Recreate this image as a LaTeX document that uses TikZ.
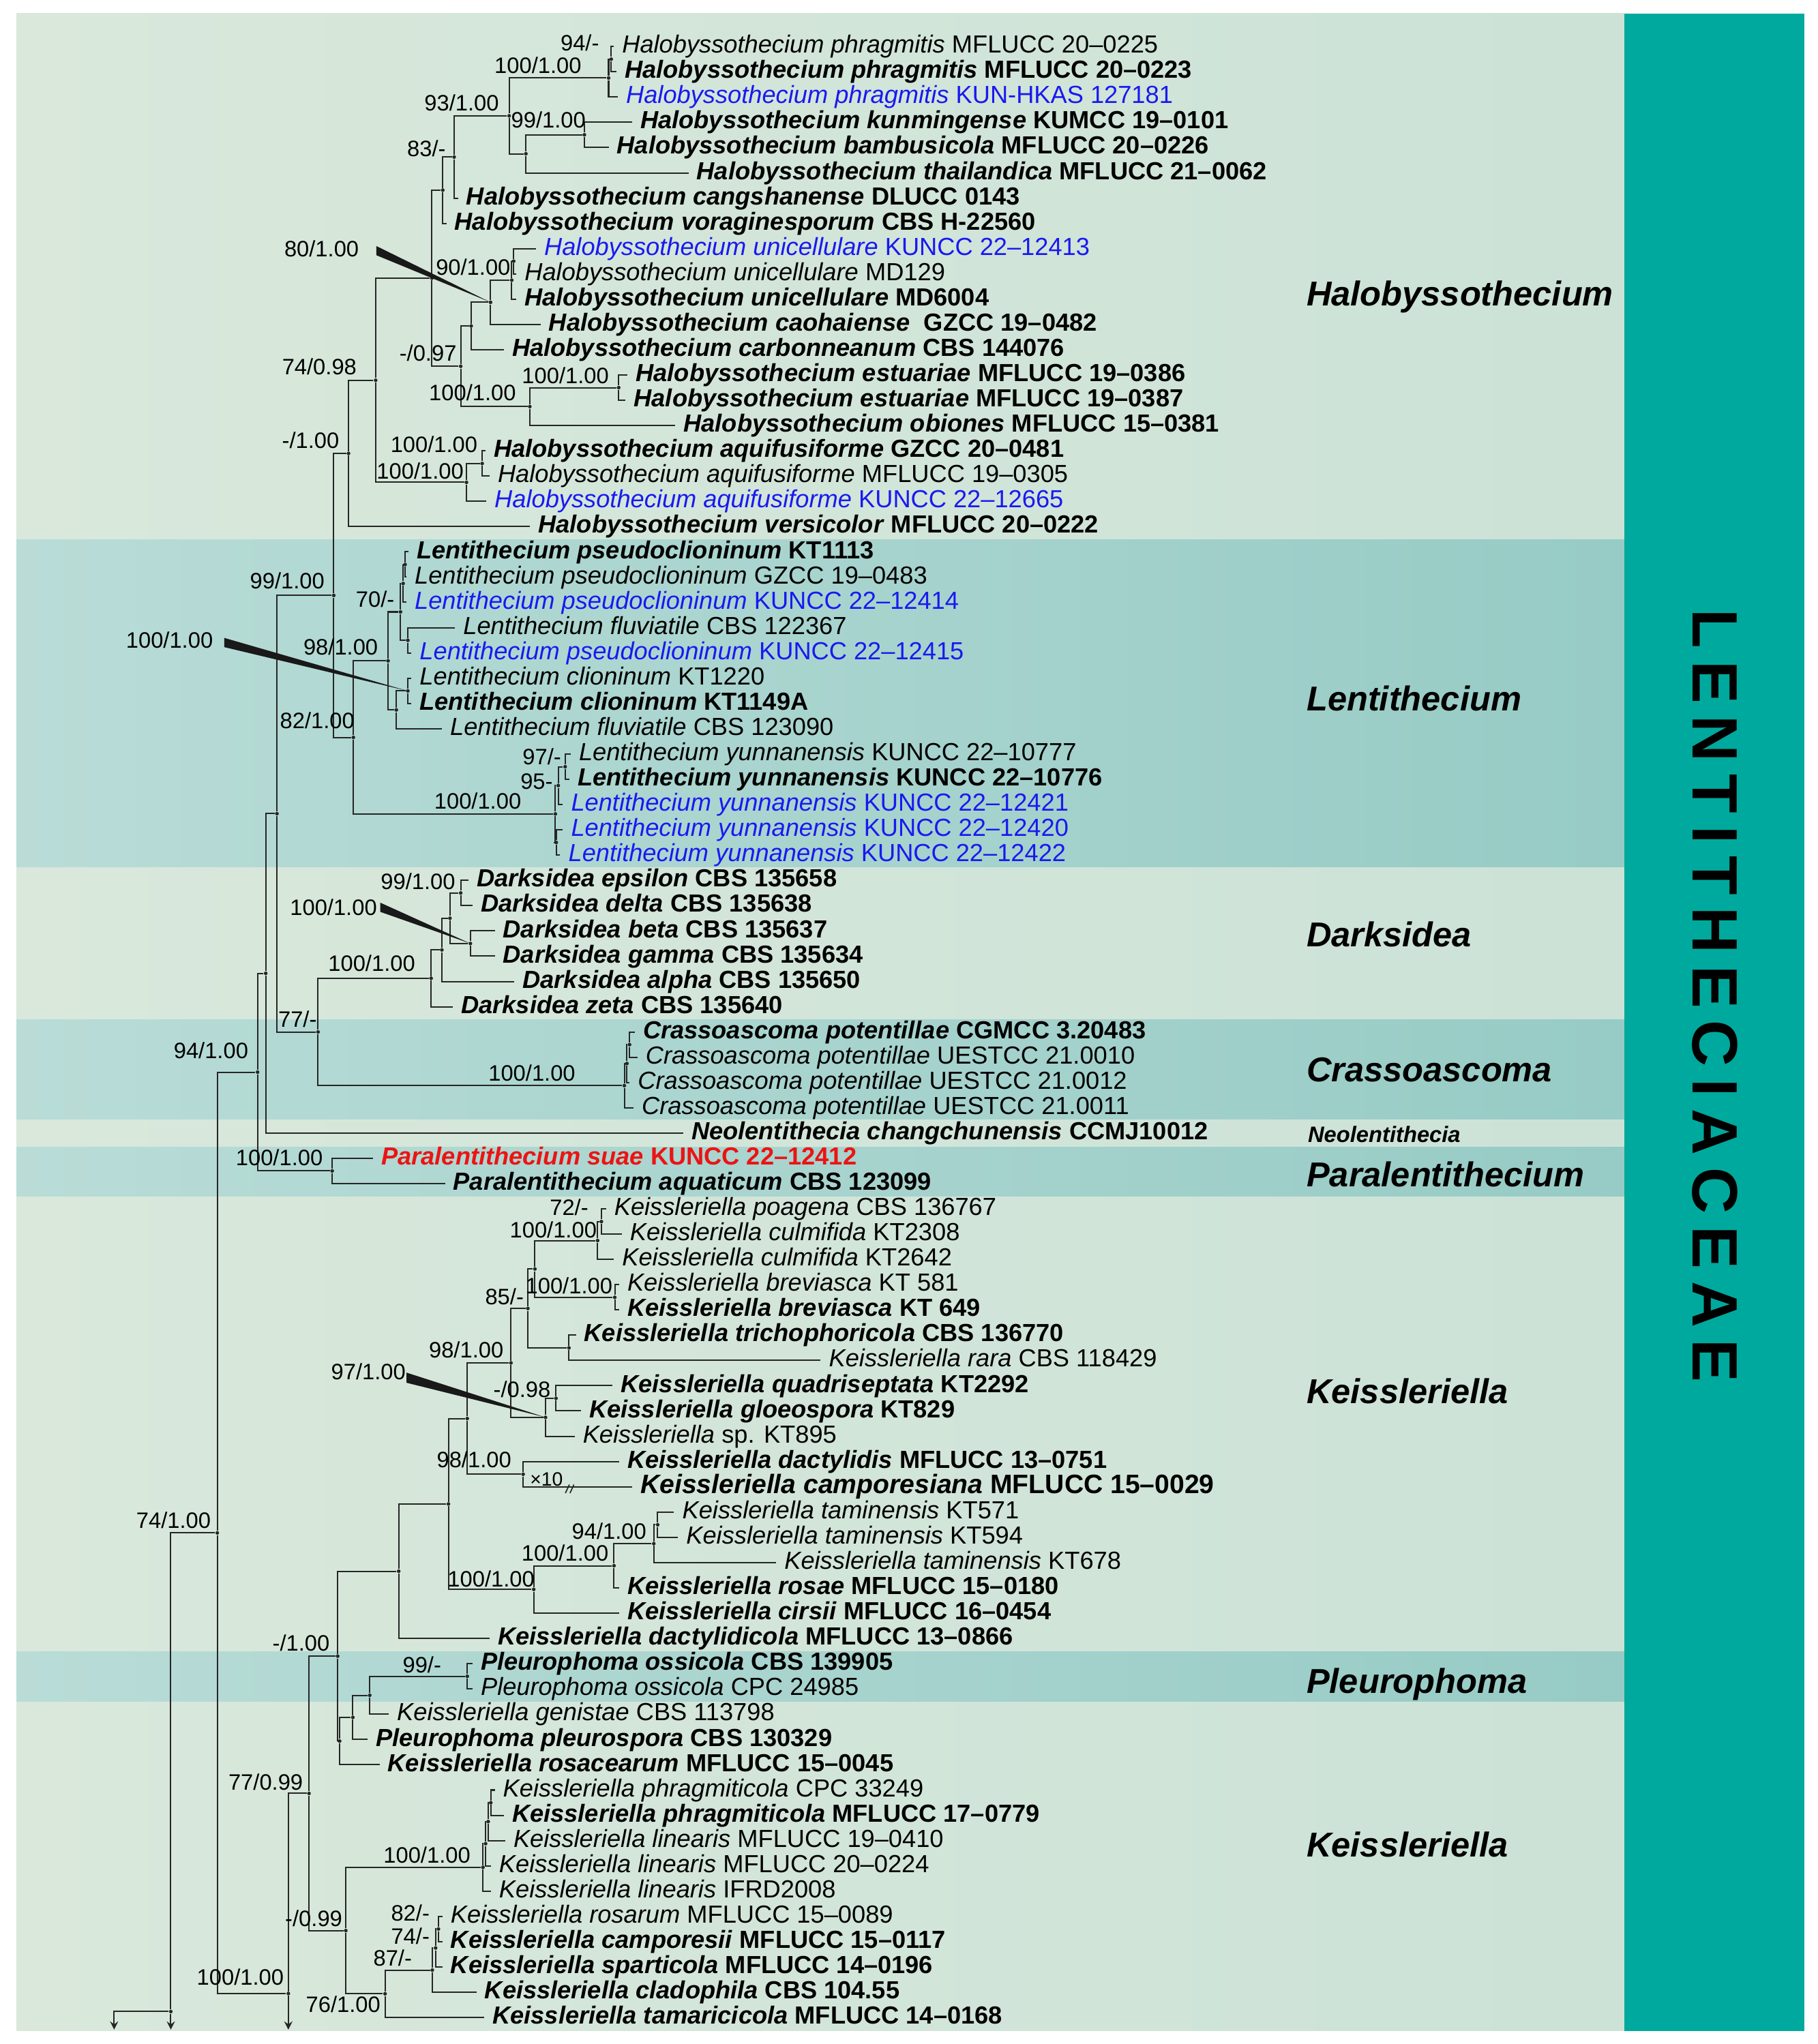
\documentclass[tikz,border=0pt]{standalone}
\usepackage{fontspec}
\setmainfont{Liberation Sans}
\usetikzlibrary{arrows}

\definecolor{lightL}{HTML}{D9E8DB}
\definecolor{lightR}{HTML}{CCE2D7}
\definecolor{tealL}{HTML}{B9DCD7}
\definecolor{tealR}{HTML}{97CBC5}
\definecolor{barteal}{HTML}{00A99D}
\definecolor{newblue}{RGB}{25,25,240}
\definecolor{newred}{RGB}{235,20,20}

\newcommand{\taxon}[2]{\textit{#1} #2}
\newcommand{\taxonb}[2]{\textbf{\textit{#1} #2}}

\tikzstyle{leaf} = [anchor=west, inner xsep=0.12cm, inner ysep=0pt, text height=8pt, text depth=2.3pt, font=\fontsize{10.75}{13}\selectfont]
\tikzstyle{fresh} = [text=newblue]
\tikzstyle{dot} = [circle, fill=black!85, inner sep=0pt, minimum size=1.6pt]
\tikzstyle{sup} = [inner sep=0pt, font=\fontsize{9.7}{11}\selectfont]
\tikzstyle{clade} = [anchor=west, inner sep=0pt, text height=11pt, text depth=0pt, font=\fontsize{15}{18}\selectfont\bfseries\itshape]
\tikzstyle{branch} = [line width=0.6pt, draw=black!85]
\tikzstyle{arrow} = [branch, ->, >=stealth]

\begin{document}
\begin{tikzpicture}[x=0.02cm, y=-0.02cm]
        \useasboundingbox (0,0) rectangle (1389,1562);
        \fill[white] (0,0) rectangle (1389,1562);
        % bands
        \foreach \ya/\yb/\c in {10.4/412.5/light, 412.5/663/teal, 663/779/light, 779/856/teal, 856/876.5/light, 876.5/914.5/teal, 914.5/1262/light, 1262/1300.5/teal, 1300.5/1552/light}
          \shade[left color=\c L, right color=\c R] (12.7,\ya) rectangle (1241,\yb);
        \fill[barteal] (1241,10.4) rectangle (1378.4,1552);

        % internal nodes
        \node (a12) [dot] at (467,45.2) {};
        \node (a123) [dot] at (465,59.6) {};
        \node (b45) [dot] at (446.5,103) {};
        \node (b456) [dot] at (401.8,117.5) {};
        \node (n93) [dot] at (389,88.5) {};
        \node (n83) [dot] at (347,120) {};
        \node (n83b) [dot] at (338.3,145.3) {};
        \node (u0) [dot] at (392.5,199.6) {};
        \node (u1) [dot] at (391,214.1) {};
        \node (u2) [dot] at (374.8,231) {};
        \node (u3) [dot] at (360,249.1) {};
        \node (es12) [dot] at (472.7,296.2) {};
        \node (es) [dot] at (404.8,310.7) {};
        \node (n097) [dot] at (352,279.9) {};
        \node (h80) [dot] at (330,212.6) {};
        \node (aq12) [dot] at (368.4,354.2) {};
        \node (aq) [dot] at (356.4,368.6) {};
        \node (n74) [dot] at (287,290.6) {};
        \node (n1) [dot] at (266.3,346.5) {};
        \node (p0a) [dot] at (309.5,431.4) {};
        \node (p0b) [dot] at (308,445.9) {};
        \node (fl) [dot] at (311.6,489.3) {};
        \node (p70) [dot] at (306,467.6) {};
        \node (cl12) [dot] at (311.6,528) {};
        \node (cl) [dot] at (302.8,542.5) {};
        \node (n98L) [dot] at (296.5,505) {};
        \node (y97) [dot] at (431.8,585.9) {};
        \node (y95) [dot] at (426.5,600.3) {};
        \node (y0) [dot] at (425,643.8) {};
        \node (y100) [dot] at (424.3,622) {};
        \node (n82) [dot] at (270,563.5) {};
        \node (n99) [dot] at (255,455) {};
        \node (d12) [dot] at (352,682.4) {};
        \node (d34) [dot] at (359.4,721) {};
        \node (d1234) [dot] at (343.8,701.7) {};
        \node (d5) [dot] at (337.6,725.9) {};
        \node (d100) [dot] at (329.4,747.6) {};
        \node (cr1) [dot] at (481,798.3) {};
        \node (cr2) [dot] at (479,812.7) {};
        \node (cr) [dot] at (477,829.6) {};
        \node (n77) [dot] at (243,788.6) {};
        \node (nb) [dot] at (211.6,621.8) {};
        \node (nc) [dot] at (203,743.8) {};
        \node (pa) [dot] at (253.8,894.8) {};
        \node (n94) [dot] at (196.8,819.3) {};
        \node (k72) [dot] at (459.5,933.5) {};
        \node (k100a) [dot] at (456.6,948) {};
        \node (kb) [dot] at (469.7,991.4) {};
        \node (k85a) [dot] at (408.7,969.7) {};
        \node (kt) [dot] at (434.7,1030) {};
        \node (k85) [dot] at (403.3,999.9) {};
        \node (kq) [dot] at (424.8,1068.6) {};
        \node (kg) [dot] at (416.8,1083.1) {};
        \node (k98a) [dot] at (390.4,1041.5) {};
        \node (kd) [dot] at (399.7,1126.6) {};
        \node (k98b) [dot] at (357,1084) {};
        \node (t94) [dot] at (502.5,1165.2) {};
        \node (t100) [dot] at (499.5,1179.6) {};
        \node (tr) [dot] at (469.1,1196.5) {};
        \node (tc) [dot] at (407.8,1214.6) {};
        \node (k100c) [dot] at (342.6,1149.3) {};
        \node (kx) [dot] at (304.6,1200.7) {};
        \node (p99) [dot] at (357,1281) {};
        \node (pg) [dot] at (282.5,1295.5) {};
        \node (pp) [dot] at (269.6,1312.4) {};
        \node (pr) [dot] at (259.5,1330.5) {};
        \node (k1) [dot] at (258,1265.6) {};
        \node (kp1) [dot] at (375,1377.6) {};
        \node (kp2) [dot] at (373,1392) {};
        \node (kp3) [dot] at (371,1408.9) {};
        \node (kp) [dot] at (369,1427) {};
        \node (k82) [dot] at (335,1474.1) {};
        \node (k74) [dot] at (332.8,1488.6) {};
        \node (k87) [dot] at (330.3,1505.5) {};
        \node (k76) [dot] at (294.2,1523.6) {};
        \node (k099) [dot] at (264.2,1475.3) {};
        \node (k77) [dot] at (236.1,1370.5) {};
        \node (k100b) [dot] at (220.3,1523.4) {};
        \node (n74b) [dot] at (166,1171.4) {};
        \node (nr) [dot] at (130.5,1537.2) {};
        \coordinate (out1) at (87.2,1551);
        \coordinate (out2) at (130.5,1551);
        \coordinate (out3) at (220.3,1551);

        % leaves
        \node (l01) [leaf] at (469,35.5) {\taxon{Halobyssothecium phragmitis}{MFLUCC 20--0225}};
        \node (l02) [leaf] at (471,54.8) {\taxonb{Halobyssothecium phragmitis}{MFLUCC 20--0223}};
        \node (l03) [leaf, fresh] at (472,74.1) {\taxon{Halobyssothecium phragmitis}{KUN-HKAS 127181}};
        \node (l04) [leaf] at (483,93.4) {\taxonb{Halobyssothecium kunmingense}{KUMCC 19--0101}};
        \node (l05) [leaf] at (465,112.7) {\taxonb{Halobyssothecium bambusicola}{MFLUCC 20--0226}};
        \node (l06) [leaf] at (526,132.1) {\taxonb{Halobyssothecium thailandica}{MFLUCC 21--0062}};
        \node (l07) [leaf] at (350,151.4) {\taxonb{Halobyssothecium cangshanense}{DLUCC 0143}};
        \node (l08) [leaf] at (341,170.7) {\taxonb{Halobyssothecium voraginesporum}{CBS H-22560}};
        \node (l09) [leaf, fresh] at (409.5,190) {\taxon{Halobyssothecium unicellulare}{KUNCC 22--12413}};
        \node (l10) [leaf] at (394.5,209.3) {\taxon{Halobyssothecium unicellulare}{MD129}};
        \node (l11) [leaf] at (394.5,228.6) {\taxonb{Halobyssothecium unicellulare}{MD6004}};
        \node (l12) [leaf] at (413,247.9) {\taxonb{Halobyssothecium caohaiense}{\ GZCC 19--0482}};
        \node (l13) [leaf] at (385,267.2) {\taxonb{Halobyssothecium carbonneanum}{CBS 144076}};
        \node (l14) [leaf] at (479.5,286.5) {\taxonb{Halobyssothecium estuariae}{MFLUCC 19--0386}};
        \node (l15) [leaf] at (478,305.8) {\taxonb{Halobyssothecium estuariae}{MFLUCC 19--0387}};
        \node (l16) [leaf] at (516,325.2) {\taxonb{Halobyssothecium obiones}{MFLUCC 15--0381}};
        \node (l17) [leaf] at (371,344.5) {\taxonb{Halobyssothecium aquifusiforme}{GZCC 20--0481}};
        \node (l18) [leaf] at (374,363.8) {\taxon{Halobyssothecium aquifusiforme}{MFLUCC 19--0305}};
        \node (l19) [leaf, fresh] at (371.5,383.1) {\taxon{Halobyssothecium aquifusiforme}{KUNCC 22--12665}};
        \node (l20) [leaf] at (405,402.4) {\taxonb{Halobyssothecium versicolor}{MFLUCC 20--0222}};
        \node (l21) [leaf] at (312,421.7) {\taxonb{Lentithecium pseudoclioninum}{KT1113}};
        \node (l22) [leaf] at (310.5,441) {\taxon{Lentithecium pseudoclioninum}{GZCC 19--0483}};
        \node (l23) [leaf, fresh] at (310.5,460.3) {\taxon{Lentithecium pseudoclioninum}{KUNCC 22--12414}};
        \node (l24) [leaf] at (347.6,479.6) {\taxon{Lentithecium fluviatile}{CBS 122367}};
        \node (l25) [leaf, fresh] at (314.3,498.9) {\taxon{Lentithecium pseudoclioninum}{KUNCC 22--12415}};
        \node (l26) [leaf] at (314.3,518.3) {\taxon{Lentithecium clioninum}{KT1220}};
        \node (l27) [leaf] at (314.3,537.6) {\taxonb{Lentithecium clioninum}{KT1149A}};
        \node (l28) [leaf] at (337.6,556.9) {\taxon{Lentithecium fluviatile}{CBS 123090}};
        \node (l29) [leaf] at (436,576.2) {\taxon{Lentithecium yunnanensis}{KUNCC 22--10777}};
        \node (l30) [leaf] at (435,595.5) {\taxonb{Lentithecium yunnanensis}{KUNCC 22--10776}};
        \node (l31) [leaf, fresh] at (430,614.8) {\taxon{Lentithecium yunnanensis}{KUNCC 22--12421}};
        \node (l32) [leaf, fresh] at (430,634.1) {\taxon{Lentithecium yunnanensis}{KUNCC 22--12420}};
        \node (l33) [leaf, fresh] at (428,653.4) {\taxon{Lentithecium yunnanensis}{KUNCC 22--12422}};
        \node (l34) [leaf] at (358,672.7) {\taxonb{Darksidea epsilon}{CBS 135658}};
        \node (l35) [leaf] at (361,692) {\taxonb{Darksidea delta}{CBS 135638}};
        \node (l36) [leaf] at (378,711.4) {\taxonb{Darksidea beta}{CBS 135637}};
        \node (l37) [leaf] at (378,730.7) {\taxonb{Darksidea gamma}{CBS 135634}};
        \node (l38) [leaf] at (393,750) {\taxonb{Darksidea alpha}{CBS 135650}};
        \node (l39) [leaf] at (346,769.3) {\taxonb{Darksidea zeta}{CBS 135640}};
        \node (l40) [leaf] at (485,788.6) {\taxonb{Crassoascoma potentillae}{CGMCC 3.20483}};
        \node (l41) [leaf] at (487,807.9) {\taxon{Crassoascoma potentillae}{UESTCC 21.0010}};
        \node (l42) [leaf] at (481,827.2) {\taxon{Crassoascoma potentillae}{UESTCC 21.0012}};
        \node (l43) [leaf] at (484,846.5) {\taxon{Crassoascoma potentillae}{UESTCC 21.0011}};
        \node (l44) [leaf] at (522,865.8) {\taxonb{Neolentithecia changchunensis}{CCMJ10012}};
        \node (l45) [leaf, text=newred] at (285,885.1) {\taxonb{Paralentithecium suae}{KUNCC 22--12412}};
        \node (l46) [leaf] at (340,904.5) {\taxonb{Paralentithecium aquaticum}{CBS 123099}};
        \node (l47) [leaf] at (463,923.8) {\taxon{Keissleriella poagena}{CBS 136767}};
        \node (l48) [leaf] at (475,943.1) {\taxon{Keissleriella culmifida}{KT2308}};
        \node (l49) [leaf] at (469,962.4) {\taxon{Keissleriella culmifida}{KT2642}};
        \node (l50) [leaf] at (473,981.7) {\taxon{Keissleriella breviasca}{KT 581}};
        \node (l51) [leaf] at (473,1001) {\taxonb{Keissleriella breviasca}{KT 649}};
        \node (l52) [leaf] at (440,1020.3) {\taxonb{Keissleriella trichophoricola}{CBS 136770}};
        \node (l53) [leaf] at (627,1039.6) {\taxon{Keissleriella rara}{CBS 118429}};
        \node (l54) [leaf] at (468,1058.9) {\taxonb{Keissleriella quadriseptata}{KT2292}};
        \node (l55) [leaf] at (444,1078.2) {\taxonb{Keissleriella gloeospora}{KT829}};
        \node (l56) [leaf] at (439,1097.6) {\taxon{Keissleriella}{sp. KT895}};
        \node (l57) [leaf] at (473,1116.9) {\taxonb{Keissleriella dactylidis}{MFLUCC 13--0751}};
        \node (l58) [leaf, font=\fontsize{11.6}{14}\selectfont] at (483,1136.2) {\taxonb{Keissleriella camporesiana}{MFLUCC 15--0029}};
        \node (l59) [leaf] at (515,1155.5) {\taxon{Keissleriella taminensis}{KT571}};
        \node (l60) [leaf] at (518,1174.8) {\taxon{Keissleriella taminensis}{KT594}};
        \node (l61) [leaf] at (593,1194.1) {\taxon{Keissleriella taminensis}{KT678}};
        \node (l62) [leaf] at (473,1213.4) {\taxonb{Keissleriella rosae}{MFLUCC 15--0180}};
        \node (l63) [leaf] at (473,1232.7) {\taxonb{Keissleriella cirsii}{MFLUCC 16--0454}};
        \node (l64) [leaf] at (374,1252) {\taxonb{Keissleriella dactylidicola}{MFLUCC 13--0866}};
        \node (l65) [leaf] at (361,1271.3) {\taxonb{Pleurophoma ossicola}{CBS 139905}};
        \node (l66) [leaf] at (361,1290.7) {\taxon{Pleurophoma ossicola}{CPC 24985}};
        \node (l67) [leaf] at (297,1310) {\taxon{Keissleriella genistae}{CBS 113798}};
        \node (l68) [leaf] at (281,1329.3) {\taxonb{Pleurophoma pleurospora}{CBS 130329}};
        \node (l69) [leaf] at (290,1348.6) {\taxonb{Keissleriella rosacearum}{MFLUCC 15--0045}};
        \node (l70) [leaf] at (378,1367.9) {\taxon{Keissleriella phragmiticola}{CPC 33249}};
        \node (l71) [leaf] at (385,1387.2) {\taxonb{Keissleriella phragmiticola}{MFLUCC 17--0779}};
        \node (l72) [leaf] at (386,1406.5) {\taxon{Keissleriella linearis}{MFLUCC 19--0410}};
        \node (l73) [leaf] at (375,1425.8) {\taxon{Keissleriella linearis}{MFLUCC 20--0224}};
        \node (l74) [leaf] at (375,1445.1) {\taxon{Keissleriella linearis}{IFRD2008}};
        \node (l75) [leaf] at (338,1464.4) {\taxon{Keissleriella rosarum}{MFLUCC 15--0089}};
        \node (l76) [leaf] at (338,1483.8) {\taxonb{Keissleriella camporesii}{MFLUCC 15--0117}};
        \node (l77) [leaf] at (338,1503.1) {\taxonb{Keissleriella sparticola}{MFLUCC 14--0196}};
        \node (l78) [leaf] at (364,1522.4) {\taxonb{Keissleriella cladophila}{CBS 104.55}};
        \node (l79) [leaf] at (370,1541.7) {\taxonb{Keissleriella tamaricicola}{MFLUCC 14--0168}};

        % branches
        \foreach \p/\q in {a12/l01, a12/l02, a123/a12, a123/l03, b45/l04, b45/l05, b456/b45, b456/l06,
            n93/a123, n93/b456, n83/n93, n83/l07, n83b/n83, n83b/l08, u0/l09, u0/l10, u1/u0, u1/l11,
            u2/u1, u2/l12, u3/u2, u3/l13, es12/l14, es12/l15, es/es12, es/l16, n097/u3, n097/es,
            h80/n83b, h80/n097, aq12/l17, aq12/l18, aq/aq12, aq/l19, n74/h80, n74/aq, n1/n74, n1/l20,
            p0a/l21, p0a/l22, p0b/p0a, p0b/l23, fl/l24, fl/l25, p70/p0b, p70/fl, cl12/l26, cl12/l27,
            cl/cl12, cl/l28, n98L/p70, n98L/cl, y97/l29, y97/l30, y95/y97, y95/l31, y0/l32, y0/l33,
            y100/y95, y100/y0, n82/n98L, n82/y100, n99/n1, n99/n82, d12/l34, d12/l35, d34/l36, d34/l37,
            d1234/d12, d1234/d34, d5/d1234, d5/l38, d100/d5, d100/l39, cr1/l40, cr1/l41, cr2/cr1, cr2/l42,
            cr/cr2, cr/l43, n77/d100, n77/cr, nb/n99, nb/n77, nc/nb, nc/l44, pa/l45, pa/l46, n94/nc, n94/pa,
            k72/l47, k72/l48, k100a/k72, k100a/l49, kb/l50, kb/l51, k85a/k100a, k85a/kb, kt/l52, kt/l53,
            k85/k85a, k85/kt, kq/l54, kq/l55, kg/kq, kg/l56, k98a/k85, k98a/kg, kd/l57, kd/l58,
            k98b/k98a, k98b/kd, t94/l59, t94/l60, t100/t94, t100/l61, tr/t100, tr/l62, tc/tr, tc/l63,
            k100c/k98b, k100c/tc, kx/k100c, kx/l64, p99/l65, p99/l66, pg/p99, pg/l67, pp/pg, pp/l68,
            pr/pp, pr/l69, k1/kx, k1/pr, kp1/l70, kp1/l71, kp2/kp1, kp2/l72, kp3/kp2, kp3/l73, kp/kp3, kp/l74,
            k82/l75, k82/l76, k74/k82, k74/l77, k87/k74, k87/l78, k76/k87, k76/l79, k099/kp, k099/k76,
            k77/k1, k77/k099, k100b/k77, n74b/n94, n74b/k100b, nr/n74b}
          \draw [branch] (\p) |- (\q);
        \draw [arrow] (nr) -| (out1);
        \draw [arrow] (nr) -- (out2);
        \draw [arrow] (k100b) -- (out3);
        % long branch break
        \draw [branch, line width=0.5pt] (432,1141) -- (435,1134.5) (435.5,1141) -- (438.5,1134.5);

        % support values
        \node (s01) [sup] at (443,32.8) {94/-};
        \node (s02) [sup] at (411,50) {100/1.00};
        \node (s03) [sup] at (352.7,78.4) {93/1.00};
        \node (s04) [sup] at (419,91.4) {99/1.00};
        \node (s05) [sup] at (325.8,113.7) {83/-};
        \node (s06) [sup] at (245.7,190) {80/1.00};
        \node (s07) [sup] at (361.5,204) {90/1.00};
        \node (s08) [sup] at (327,270) {-/0.97};
        \node (s09) [sup] at (244,280.3) {74/0.98};
        \node (s10) [sup] at (432,287) {100/1.00};
        \node (s11) [sup] at (361,300.2) {100/1.00};
        \node (s12) [sup] at (237.3,336.5) {-/1.00};
        \node (s13) [sup] at (331.6,339.8) {100/1.00};
        \node (s14) [sup] at (321,359.8) {100/1.00};
        \node (s15) [sup] at (219.5,444) {99/1.00};
        \node (s16) [sup] at (286.6,458) {70/-};
        \node (s17) [sup] at (129.5,489) {100/1.00};
        \node (s18) [sup] at (260.3,494.3) {98/1.00};
        \node (s19) [sup] at (242.4,550.5) {82/1.00};
        \node (s20) [sup] at (414,578) {97/-};
        \node (s21) [sup] at (410,597.4) {95-};
        \node (s22) [sup] at (365,612.3) {100/1.00};
        \node (s23) [sup] at (319.4,673.7) {99/1.00};
        \node (s24) [sup] at (254.8,693.3) {100/1.00};
        \node (s25) [sup] at (284,736) {100/1.00};
        \node (s26) [sup] at (227.3,778.8) {77/-};
        \node (s27) [sup] at (161.2,803) {94/1.00};
        \node (s28) [sup] at (406.4,819.8) {100/1.00};
        \node (s29) [sup] at (213.4,884.5) {100/1.00};
        \node (s30) [sup] at (434.8,922.8) {72/-};
        \node (s31) [sup] at (422.7,939.6) {100/1.00};
        \node (s32) [sup] at (434.7,982.6) {100/1.00};
        \node (s33) [sup] at (385.4,991) {85/-};
        \node (s34) [sup] at (356.2,1031.7) {98/1.00};
        \node (s35) [sup] at (281.5,1048) {97/1.00};
        \node (s36) [sup] at (398.8,1061.6) {-/0.98};
        \node (s37) [sup] at (362.2,1115.4) {98/1.00};
        \node (s38) [sup] at (465.4,1170) {94/1.00};
        \node (s39) [sup] at (431.7,1187) {100/1.00};
        \node (s40) [sup] at (375.2,1206.4) {100/1.00};
        \node (s41) [sup] at (132.6,1162) {74/1.00};
        \node (s42) [sup] at (230,1255.3) {-/1.00};
        \node (s43) [sup] at (322.4,1272.4) {99/-};
        \node (s44) [sup] at (203,1361.8) {77/0.99};
        \node (s45) [sup] at (326.2,1417.3) {100/1.00};
        \node (s46) [sup] at (239.7,1466.2) {-/0.99};
        \node (s47) [sup] at (313.5,1461.7) {82/-};
        \node (s48) [sup] at (313.5,1479.5) {74/-};
        \node (s49) [sup] at (300,1496.1) {87/-};
        \node (s50) [sup] at (183.6,1510.6) {100/1.00};
        \node (s51) [sup] at (262.2,1531.7) {76/1.00};
        \node (x10) [sup, font=\fontsize{8.4}{10}\selectfont] at (417.5,1130.3) {×10};

        % pointers from labels to nodes
        \coordinate (w80) at (287.5,191.5);
        \coordinate (wL) at (171.4,491);
        \coordinate (wD) at (290.5,693.3);
        \coordinate (wK) at (310.6,1052.8);
        \fill [black!90] ([yshift=2pt]w80) -- ([yshift=-2pt]w80) -- (u2.center) -- cycle;
        \fill [black!90] ([yshift=2pt]wL) -- ([yshift=-2pt]wL) -- (cl12.center) -- cycle;
        \fill [black!90] ([yshift=2pt]wD) -- ([yshift=-2pt]wD) -- (d34.center) -- cycle;
        \fill [black!90] ([yshift=2.2pt]wK) -- ([yshift=-2.2pt]wK) -- (kg.center) -- cycle;

        % clade names
        \node (gHalo) [clade] at (998,224) {Halobyssothecium};
        \node (gLent) [clade] at (998,533.5) {Lentithecium};
        \node (gDark) [clade] at (998,713.7) {Darksidea};
        \node (gCras) [clade] at (998,817) {Crassoascoma};
        \node (gNeol) [clade, text height=7pt, font=\fontsize{9.7}{11}\selectfont\bfseries\itshape] at (999,867) {Neolentithecia};
        \node (gPara) [clade] at (998,897) {Paralentithecium};
        \node (gKeis) [clade] at (998,1063) {Keissleriella};
        \node (gPleu) [clade] at (998,1284) {Pleurophoma};
        \node (gKeis2) [clade] at (998,1409.5) {Keissleriella};
        \node (fam) [rotate=-90, anchor=west, inner sep=0pt, font=\fontsize{27.9}{30}\selectfont\bfseries\addfontfeatures{LetterSpace=19}] at (1310.5,465.4) {LENTITHECIACEAE};
      \end{tikzpicture}
\end{document}
